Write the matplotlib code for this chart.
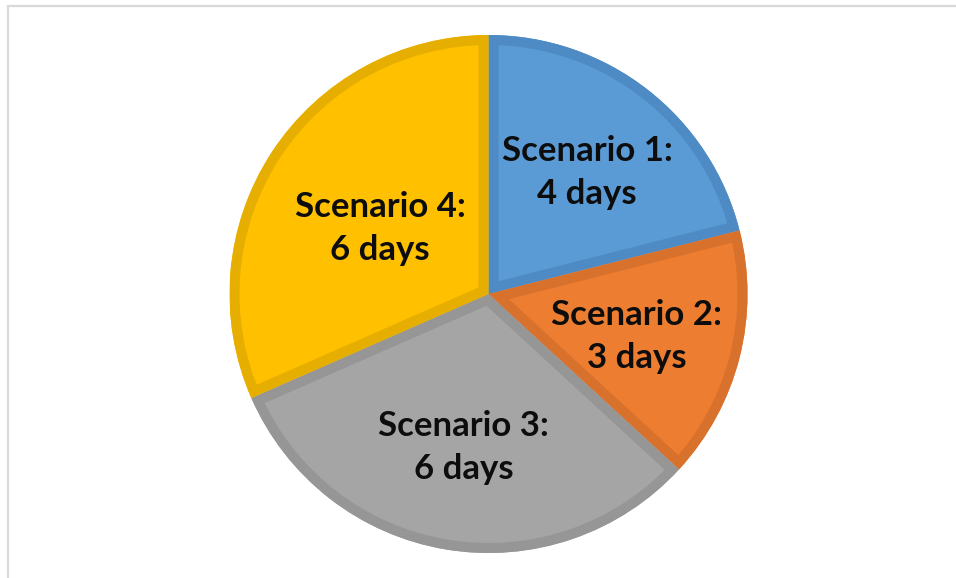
import matplotlib
matplotlib.use("Agg")
import matplotlib.pyplot as plt
from matplotlib.patches import Rectangle, Wedge
import numpy as np

# scenario durations in days
scenarios = ["Scenario 1", "Scenario 2", "Scenario 3", "Scenario 4"]
days = [4, 3, 6, 6]

fills = ["#5B9BD5", "#ED7D31", "#A5A5A5", "#FFC000"]
edges = ["#4E8BC4", "#D8712C", "#969696", "#E6AE00"]
label_r = [0.62, 0.59, 0.58, 0.50]

W, H = 956, 578
fig = plt.figure(figsize=(W / 100, H / 100), dpi=100)
fig.patch.set_facecolor("white")

# chart frame (runs off the right/bottom edge)
fig.add_artist(Rectangle((7.5 / W, -0.1), 1.2, 1.1 - 6.5 / H,
                         transform=fig.transFigure, fill=False,
                         edgecolor="#D9D9D9", linewidth=1.6))

cx, cy, r = 488.5, 294, 259
ax = fig.add_axes([(cx - r) / W, (H - cy - r) / H, 2 * r / W, 2 * r / H])

wedges, _ = ax.pie(days, colors=fills, startangle=90, counterclock=False,
                   radius=1, wedgeprops=dict(linewidth=0))
ax.set_xlim(-1, 1)
ax.set_ylim(-1, 1)
ax.set_aspect("equal")
ax.axis("off")

# darker inner border on each slice: stroke twice the width, clip to the slice
for w, ec in zip(wedges, edges):
    bw = Wedge(w.center, w.r, w.theta1, w.theta2, facecolor="none",
               edgecolor=ec, linewidth=14.4, joinstyle="miter")
    ax.add_patch(bw)
    bw.set_clip_path(w)

total = sum(days)
start = 90.0
for name, d, lr in zip(scenarios, days, label_r):
    span = d / total * 360
    mid = np.deg2rad(start - span / 2)
    start -= span
    ax.text(lr * np.cos(mid), lr * np.sin(mid) - 0.02, f"{name}:\n{d} days",
            ha="center", va="center", fontsize=25, fontweight="bold",
            family="Lato", color="#0D0D0D", linespacing=1.4)

fig.savefig("out.png", dpi=100)
